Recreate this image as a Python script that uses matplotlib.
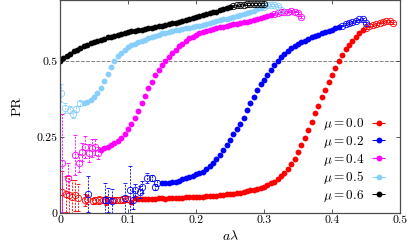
import numpy as np
import matplotlib
matplotlib.use('Agg')
import matplotlib.pyplot as plt

plt.rcParams['mathtext.fontset'] = 'cm'
plt.rcParams['font.family'] = 'serif'
plt.rcParams['font.serif'] = ['cmr10', 'DejaVu Serif']
plt.rcParams['axes.formatter.use_mathtext'] = True

# ---- mu = 0.0 (red)
red_lo_x = [0.003, 0.009, 0.013, 0.018, 0.022, 0.026, 0.037, 0.040, 0.048, 0.052,
            0.058, 0.063, 0.068, 0.073, 0.078, 0.083, 0.088, 0.093, 0.098]
red_lo_y = [0.068, 0.063, 0.060, 0.053, 0.058, 0.050, 0.042, 0.045, 0.040, 0.042,
            0.043, 0.044, 0.041, 0.043, 0.042, 0.044, 0.043, 0.045, 0.047]
red_lo_e = [0.070, 0.060, 0.060, 0.055, 0.050, 0.045, 0.020, 0.015, 0.010, 0.012,
            0.012, 0.010, 0.015, 0.010, 0.008, 0.010, 0.010, 0.012, 0.010]
red_x = np.round(np.arange(0.105, 0.4451, 0.005), 3)
red_y = [0.036, 0.050, 0.047, 0.046, 0.047, 0.047, 0.046, 0.047, 0.048, 0.048,
         0.047, 0.048, 0.049, 0.049, 0.050, 0.050, 0.051, 0.051, 0.052, 0.053,
         0.053, 0.054, 0.055, 0.055, 0.056, 0.057, 0.058, 0.059, 0.061, 0.062,
         0.064, 0.065, 0.067, 0.069, 0.072, 0.074, 0.077, 0.080, 0.083, 0.087,
         0.092, 0.097, 0.103, 0.111, 0.120, 0.131, 0.144, 0.160, 0.178, 0.199,
         0.222, 0.247, 0.273, 0.300, 0.327, 0.353, 0.380, 0.405, 0.430, 0.455,
         0.478, 0.500, 0.520, 0.538, 0.553, 0.566, 0.578, 0.590, 0.600]
red_hi_x = [0.450, 0.455, 0.460, 0.465, 0.470, 0.475, 0.480, 0.485, 0.490]
red_hi_y = [0.607, 0.613, 0.618, 0.622, 0.626, 0.629, 0.631, 0.631, 0.624]

# ---- mu = 0.2 (blue)
blue_lo_x = [0.041, 0.066, 0.071, 0.076, 0.096, 0.103, 0.108, 0.110, 0.118,
             0.121, 0.128, 0.135, 0.140, 0.143]
blue_lo_y = [0.062, 0.043, 0.042, 0.040, 0.049, 0.076, 0.042, 0.076, 0.070,
             0.086, 0.115, 0.115, 0.086, 0.100]
blue_lo_e = [0.060, 0.055, 0.040, 0.040, 0.050, 0.080, 0.030, 0.020, 0.020,
             0.020, 0.015, 0.010, 0.010, 0.010]
blue_x = np.round(np.arange(0.150, 0.4101, 0.005), 3)
blue_y = [0.098, 0.097, 0.099, 0.101, 0.102, 0.106, 0.111, 0.114, 0.118, 0.123,
          0.127, 0.131, 0.136, 0.145, 0.155, 0.165, 0.177, 0.192, 0.207, 0.223,
          0.240, 0.258, 0.275, 0.293, 0.312, 0.337, 0.360, 0.382, 0.404, 0.423,
          0.438, 0.455, 0.470, 0.486, 0.500, 0.513, 0.524, 0.534, 0.542, 0.549,
          0.555, 0.561, 0.566, 0.572, 0.577, 0.582, 0.586, 0.590, 0.594, 0.599,
          0.603, 0.608, 0.612]
blue_hi_x = [0.415, 0.420, 0.425, 0.430, 0.435, 0.440, 0.445, 0.450]
blue_hi_y = [0.616, 0.620, 0.624, 0.628, 0.632, 0.636, 0.637, 0.625]

# ---- mu = 0.4 (magenta)
mag_lo_x = [0.0025, 0.012, 0.022, 0.028, 0.032, 0.037, 0.042, 0.047, 0.051, 0.056]
mag_lo_y = [0.164, 0.115, 0.190, 0.164, 0.200, 0.217, 0.197, 0.214, 0.217, 0.197]
mag_lo_e = [0.160, 0.050, 0.065, 0.030, 0.030, 0.035, 0.030, 0.030, 0.025, 0.020]
mag_x = np.round(np.arange(0.060, 0.3101, 0.005), 3)
mag_y = [0.207, 0.212, 0.218, 0.224, 0.230, 0.238, 0.248, 0.260, 0.275, 0.292,
         0.312, 0.335, 0.360, 0.386, 0.410, 0.432, 0.452, 0.470, 0.485, 0.499,
         0.512, 0.525, 0.537, 0.548, 0.557, 0.566, 0.574, 0.580, 0.585, 0.590,
         0.594, 0.598, 0.601, 0.604, 0.607, 0.610, 0.612, 0.615, 0.617, 0.620,
         0.622, 0.625, 0.627, 0.629, 0.632, 0.634, 0.637, 0.640, 0.643, 0.646,
         0.650]
mag_hi_x = [0.315, 0.320, 0.325, 0.330, 0.335, 0.340, 0.345, 0.350, 0.355]
mag_hi_y = [0.654, 0.657, 0.659, 0.661, 0.662, 0.663, 0.662, 0.658, 0.645]

# ---- mu = 0.5 (light blue)
lb_lo_x = [0.001, 0.007, 0.014, 0.019, 0.023, 0.029]
lb_lo_y = [0.395, 0.345, 0.339, 0.325, 0.342, 0.360]
lb_lo_e = [0.030, 0.015, 0.012, 0.012, 0.010, 0.008]
lb_x = np.round(np.arange(0.035, 0.2951, 0.005), 3)
lb_y = [0.360, 0.364, 0.370, 0.380, 0.394, 0.412, 0.434, 0.458, 0.481, 0.500,
        0.515, 0.527, 0.537, 0.545, 0.551, 0.556, 0.561, 0.566, 0.570, 0.574,
        0.578, 0.582, 0.586, 0.590, 0.593, 0.596, 0.599, 0.601, 0.603, 0.605,
        0.607, 0.609, 0.611, 0.613, 0.615, 0.618, 0.621, 0.624, 0.627, 0.630,
        0.633, 0.636, 0.639, 0.642, 0.645, 0.648, 0.651, 0.654, 0.657, 0.661,
        0.665, 0.669, 0.673]
lb_hi_x = [0.300, 0.305, 0.310, 0.315, 0.320, 0.325]
lb_hi_y = [0.678, 0.682, 0.684, 0.684, 0.680, 0.668]

# ---- mu = 0.6 (black)
blk_x = np.round(np.arange(0.0, 0.2501, 0.005), 3)
blk_y = [0.500, 0.508, 0.516, 0.524, 0.531, 0.537, 0.543, 0.548, 0.553, 0.558,
         0.562, 0.566, 0.570, 0.573, 0.577, 0.580, 0.583, 0.586, 0.589, 0.592,
         0.595, 0.597, 0.599, 0.601, 0.603, 0.605, 0.607, 0.609, 0.611, 0.613,
         0.616, 0.618, 0.621, 0.623, 0.626, 0.629, 0.632, 0.635, 0.638, 0.641,
         0.644, 0.647, 0.650, 0.653, 0.656, 0.659, 0.662, 0.666, 0.670, 0.674,
         0.678]
blk_hi_x = [0.255, 0.260, 0.265, 0.270, 0.275, 0.280, 0.285, 0.290, 0.295, 0.300]
blk_hi_y = [0.680, 0.682, 0.684, 0.685, 0.686, 0.687, 0.688, 0.688, 0.687, 0.686]

series = [
    ('0.0', 'red', red_lo_x, red_lo_y, red_lo_e, red_x, red_y, red_hi_x, red_hi_y),
    ('0.2', 'blue', blue_lo_x, blue_lo_y, blue_lo_e, blue_x, blue_y, blue_hi_x, blue_hi_y),
    ('0.4', 'magenta', mag_lo_x, mag_lo_y, mag_lo_e, mag_x, mag_y, mag_hi_x, mag_hi_y),
    ('0.5', 'lightskyblue', lb_lo_x, lb_lo_y, lb_lo_e, lb_x, lb_y, lb_hi_x, lb_hi_y),
    ('0.6', 'black', [], [], [], blk_x, blk_y, blk_hi_x, blk_hi_y),
]

fig = plt.figure(figsize=(4.08, 2.44), dpi=100)
ax = fig.add_axes([60 / 408, 31 / 244, 340 / 408, 213 / 244])

ax.axhline(0.5, color='0.5', ls='--', lw=0.7, zorder=0)


def open_points(x, y, e, c):
    if len(x) == 0:
        return
    eb = ax.errorbar(x, y, yerr=e, fmt='o', mfc='none', mec=c, ecolor=c,
                     ms=4.6, mew=0.6, elinewidth=0.6, capsize=1.2, capthick=0.6)
    eb[2][0].set_linestyle((0, (2.5, 1.5)))


handles = []
for mu, c, lx, ly, le, fx, fy, hx, hy in series:
    open_points(lx, ly, le, c)
    ax.plot(fx, fy, 'o', color=c, ms=4.2, mew=0)
    open_points(hx, hy, [0.003] * len(hx), c)
    # proxy artist for the legend entry
    h = ax.errorbar([np.nan], [np.nan], xerr=[1.0], fmt='o', color=c, ms=4.2,
                    mew=0, elinewidth=0.8, capsize=2, label=r'$\mu = %s$' % mu)
    handles.append(h)

ax.set_xlim(0, 0.5)
ax.set_ylim(0, 0.70)
ax.set_xticks([0, 0.1, 0.2, 0.3, 0.4, 0.5])
ax.set_xticklabels(['0', '0.1', '0.2', '0.3', '0.4', '0.5'])
ax.set_yticks([0, 0.25, 0.5])
ax.set_yticklabels(['0', '0.25', '0.5'])
ax.tick_params(direction='in', top=True, right=True, length=3, width=0.6,
               labelsize=8.5, pad=2, colors='0.25', labelcolor='black')
for s in ax.spines.values():
    s.set_color('0.3')
    s.set_linewidth(0.9)

ax.set_xlabel(r'$a\lambda$', fontsize=10, labelpad=3)
ax.set_ylabel('PR', fontsize=10, labelpad=9)

ax.legend(handles=handles, loc='lower right', frameon=False, fontsize=9.5,
          markerfirst=False, handlelength=1.8, handletextpad=0.2,
          labelspacing=0.12, borderaxespad=0.3)

fig.savefig('out.png', dpi=100)
